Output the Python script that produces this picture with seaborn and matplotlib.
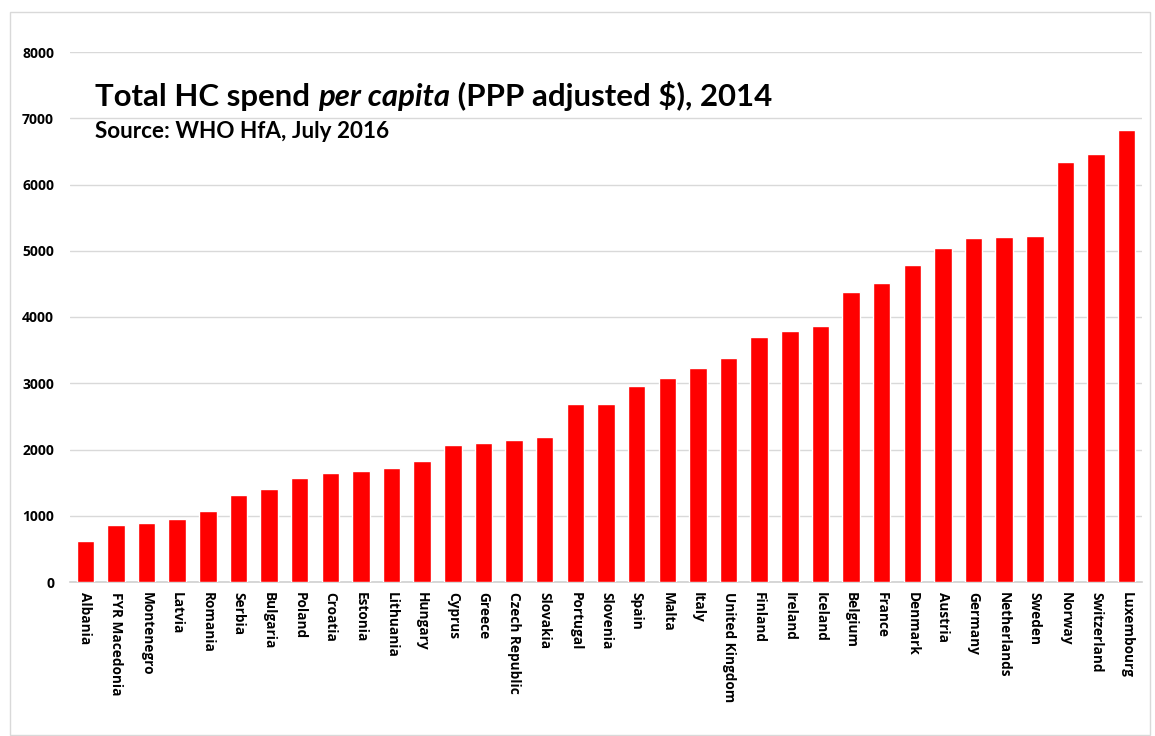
import numpy as np
import pandas as pd
import matplotlib
matplotlib.use('Agg')
import matplotlib.pyplot as plt
import seaborn as sns
from matplotlib.patches import Rectangle

## the data
countries = ['Albania', 'FYR Macedonia', 'Montenegro', 'Latvia', 'Romania', 'Serbia',
             'Bulgaria', 'Poland', 'Croatia', 'Estonia', 'Lithuania', 'Hungary',
             'Cyprus', 'Greece', 'Czech Republic', 'Slovakia', 'Portugal', 'Slovenia',
             'Spain', 'Malta', 'Italy', 'United Kingdom', 'Finland', 'Ireland',
             'Iceland', 'Belgium', 'France', 'Denmark', 'Austria', 'Germany',
             'Netherlands', 'Sweden', 'Norway', 'Switzerland', 'Luxembourg']
spend = [615, 856, 886, 950, 1076, 1313, 1399, 1570, 1650, 1670, 1716, 1826,
         2068, 2098, 2148, 2184, 2691, 2691, 2963, 3074, 3235, 3376, 3698, 3794,
         3869, 4382, 4513, 4785, 5042, 5187, 5202, 5217, 6340, 6465, 6818]
y_ticks = [0, 1000, 2000, 3000, 4000, 5000, 6000, 7000, 8000]

data = pd.DataFrame({'country': countries, 'spend': spend})

## style
sns.set_style('white')
plt.rcParams['font.family'] = ['Lato', 'DejaVu Sans']
plt.rcParams['text.color'] = 'black'
tick_font = ['Open Sans', 'DejaVu Sans']

W, H = 1155, 736
fig = plt.figure(figsize=(W / 100, H / 100), dpi=100)
ax = fig.add_axes([70 / W, 1 - 582 / H, (1142 - 70) / W, 530 / H])

sns.barplot(data=data, x='country', y='spend', color='#ff0000', saturation=1,
            width=0.57, ax=ax, zorder=3)

ax.set_ylim(0, 8000)
ax.set_yticks(y_ticks)
ax.set_yticklabels([str(v) for v in y_ticks], fontsize=10, fontweight='bold',
                   family=tick_font, color='black')
ax.set_xticks(range(len(countries)))
ax.set_xticklabels(countries, rotation=-90, fontsize=9.8, fontweight='bold',
                   family=tick_font, color='black', va='top', ha='center')
ax.tick_params(axis='y', length=0, pad=11.5)
ax.tick_params(axis='x', length=0, pad=7)
ax.set_xlabel('')
ax.set_ylabel('')
ax.grid(axis='y', color='#d9d9d9', linewidth=1, zorder=0)
for s in ['left', 'right', 'top']:
    ax.spines[s].set_visible(False)
ax.spines['bottom'].set_color('#d0d0d0')
ax.spines['bottom'].set_linewidth(1.2)
ax.set_xlim(-0.5, len(countries) - 0.5)

# title with italic part
t1 = fig.text(95 / W, 1 - 106 / H, 'Total HC spend ', fontsize=22.4, fontweight='bold',
              va='baseline', ha='left')
t2 = ax.annotate('per capita', xy=(1, 0), xycoords=t1, va='bottom', ha='left',
                 fontsize=22.4, fontweight='bold', fontstyle='italic')
t3 = ax.annotate(' (PPP adjusted $), 2014', xy=(1, 0), xycoords=t2, va='bottom',
                 ha='left', fontsize=22.4, fontweight='bold')
fig.text(95 / W, 1 - 138 / H, 'Source: WHO HfA, July 2016', fontsize=16.2,
         fontweight='bold', va='baseline', ha='left')

# light frame around the whole chart
fig.patches.append(Rectangle((10 / W, 1 - 735 / H), 1140 / W, 723 / H,
                             transform=fig.transFigure, fill=False,
                             edgecolor='#d9d9d9', linewidth=1))

fig.savefig('out.png', dpi=100)
